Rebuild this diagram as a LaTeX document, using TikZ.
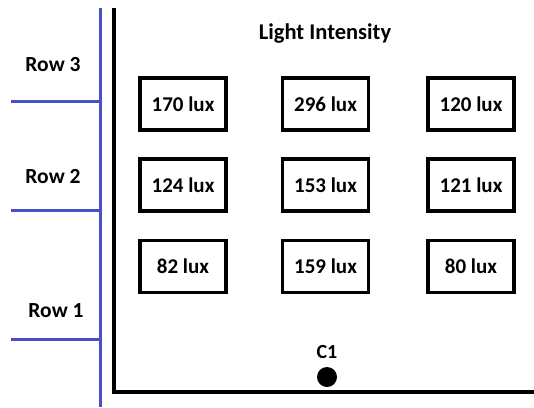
\documentclass[tikz,border=0pt]{standalone}
\usepackage{fontspec}
\setmainfont{Carlito}
\usepackage{tikz}
\usepackage{xcolor}
\usetikzlibrary{
    positioning,
    calc
  }
\definecolor{rowcolor}{RGB}{72,80,200}
\definecolor{axiscolor}{RGB}{0,0,0}
\tikzset{
  luxbox/.style={
    draw=black,
    line width=3.2pt,
    minimum width=86pt,
    minimum height=52pt,
    inner sep=0pt,
    font=\fontsize{21}{24}\selectfont\bfseries
  },
  rowlabel/.style={
    font=\fontsize{21.5}{24}\selectfont\bfseries
  },
  rowline/.style={
    draw=rowcolor,
    line width=3pt
  },
  axisline/.style={
    draw=axiscolor,
    line width=3.2pt
  }
}

\begin{document}
\begin{tikzpicture}[x=1pt, y=-1pt]

\useasboundingbox (0,0) rectangle (534,407);

% rows on the left
\path[rowline]
  (100,8) coordinate (row_top) -- (100,407) coordinate (row_bottom)
;
\path[rowline]
  (11,101) coordinate (row_3_left) -- (row_3_left -| row_top) coordinate (row_3_right)
;
\path[rowline]
  (11,210) coordinate (row_2_left) -- (row_2_left -| row_top) coordinate (row_2_right)
;
\path[rowline]
  (11,339) coordinate (row_1_left) -- (row_1_left -| row_top) coordinate (row_1_right)
;
\path[]
  (53,65) node[rowlabel] (label_row_3) {Row 3}
  (53,177) node[rowlabel] (label_row_2) {Row 2}
  (56,311) node[rowlabel] (label_row_1) {Row 1}
;

% field outline
\path[axisline]
  (114,8) coordinate (field_topleft)
    -- (114,392) coordinate (field_bottomleft)
    -- (534,392) coordinate (field_bottomright)
;
\path[]
  (325,34) node[font=\fontsize{22.5}{26}\selectfont\bfseries] (title) {Light Intensity}
;

% measurements
\path[]
  (183,104) node[luxbox] (lux_3_1) {170 lux}
  (325.5,104) node[luxbox] (lux_3_2) {296 lux}
  (471,104) node[luxbox] (lux_3_3) {120 lux}
  (183,185) node[luxbox] (lux_2_1) {124 lux}
  (325.5,185) node[luxbox] (lux_2_2) {153 lux}
  (471,185) node[luxbox] (lux_2_3) {121 lux}
  (183,266.5) node[luxbox] (lux_1_1) {82 lux}
  (325.5,266.5) node[luxbox] (lux_1_2) {159 lux}
  (471,266.5) node[luxbox] (lux_1_3) {80 lux}
;

% sensor
\path[fill=black]
  (327,377) circle[radius=10] coordinate (sensor)
;
\path[]
  (sensor) ++(0,-25) node[font=\fontsize{20}{24}\selectfont\bfseries] (sensor_label) {C1}
;

\end{tikzpicture}
\end{document}
